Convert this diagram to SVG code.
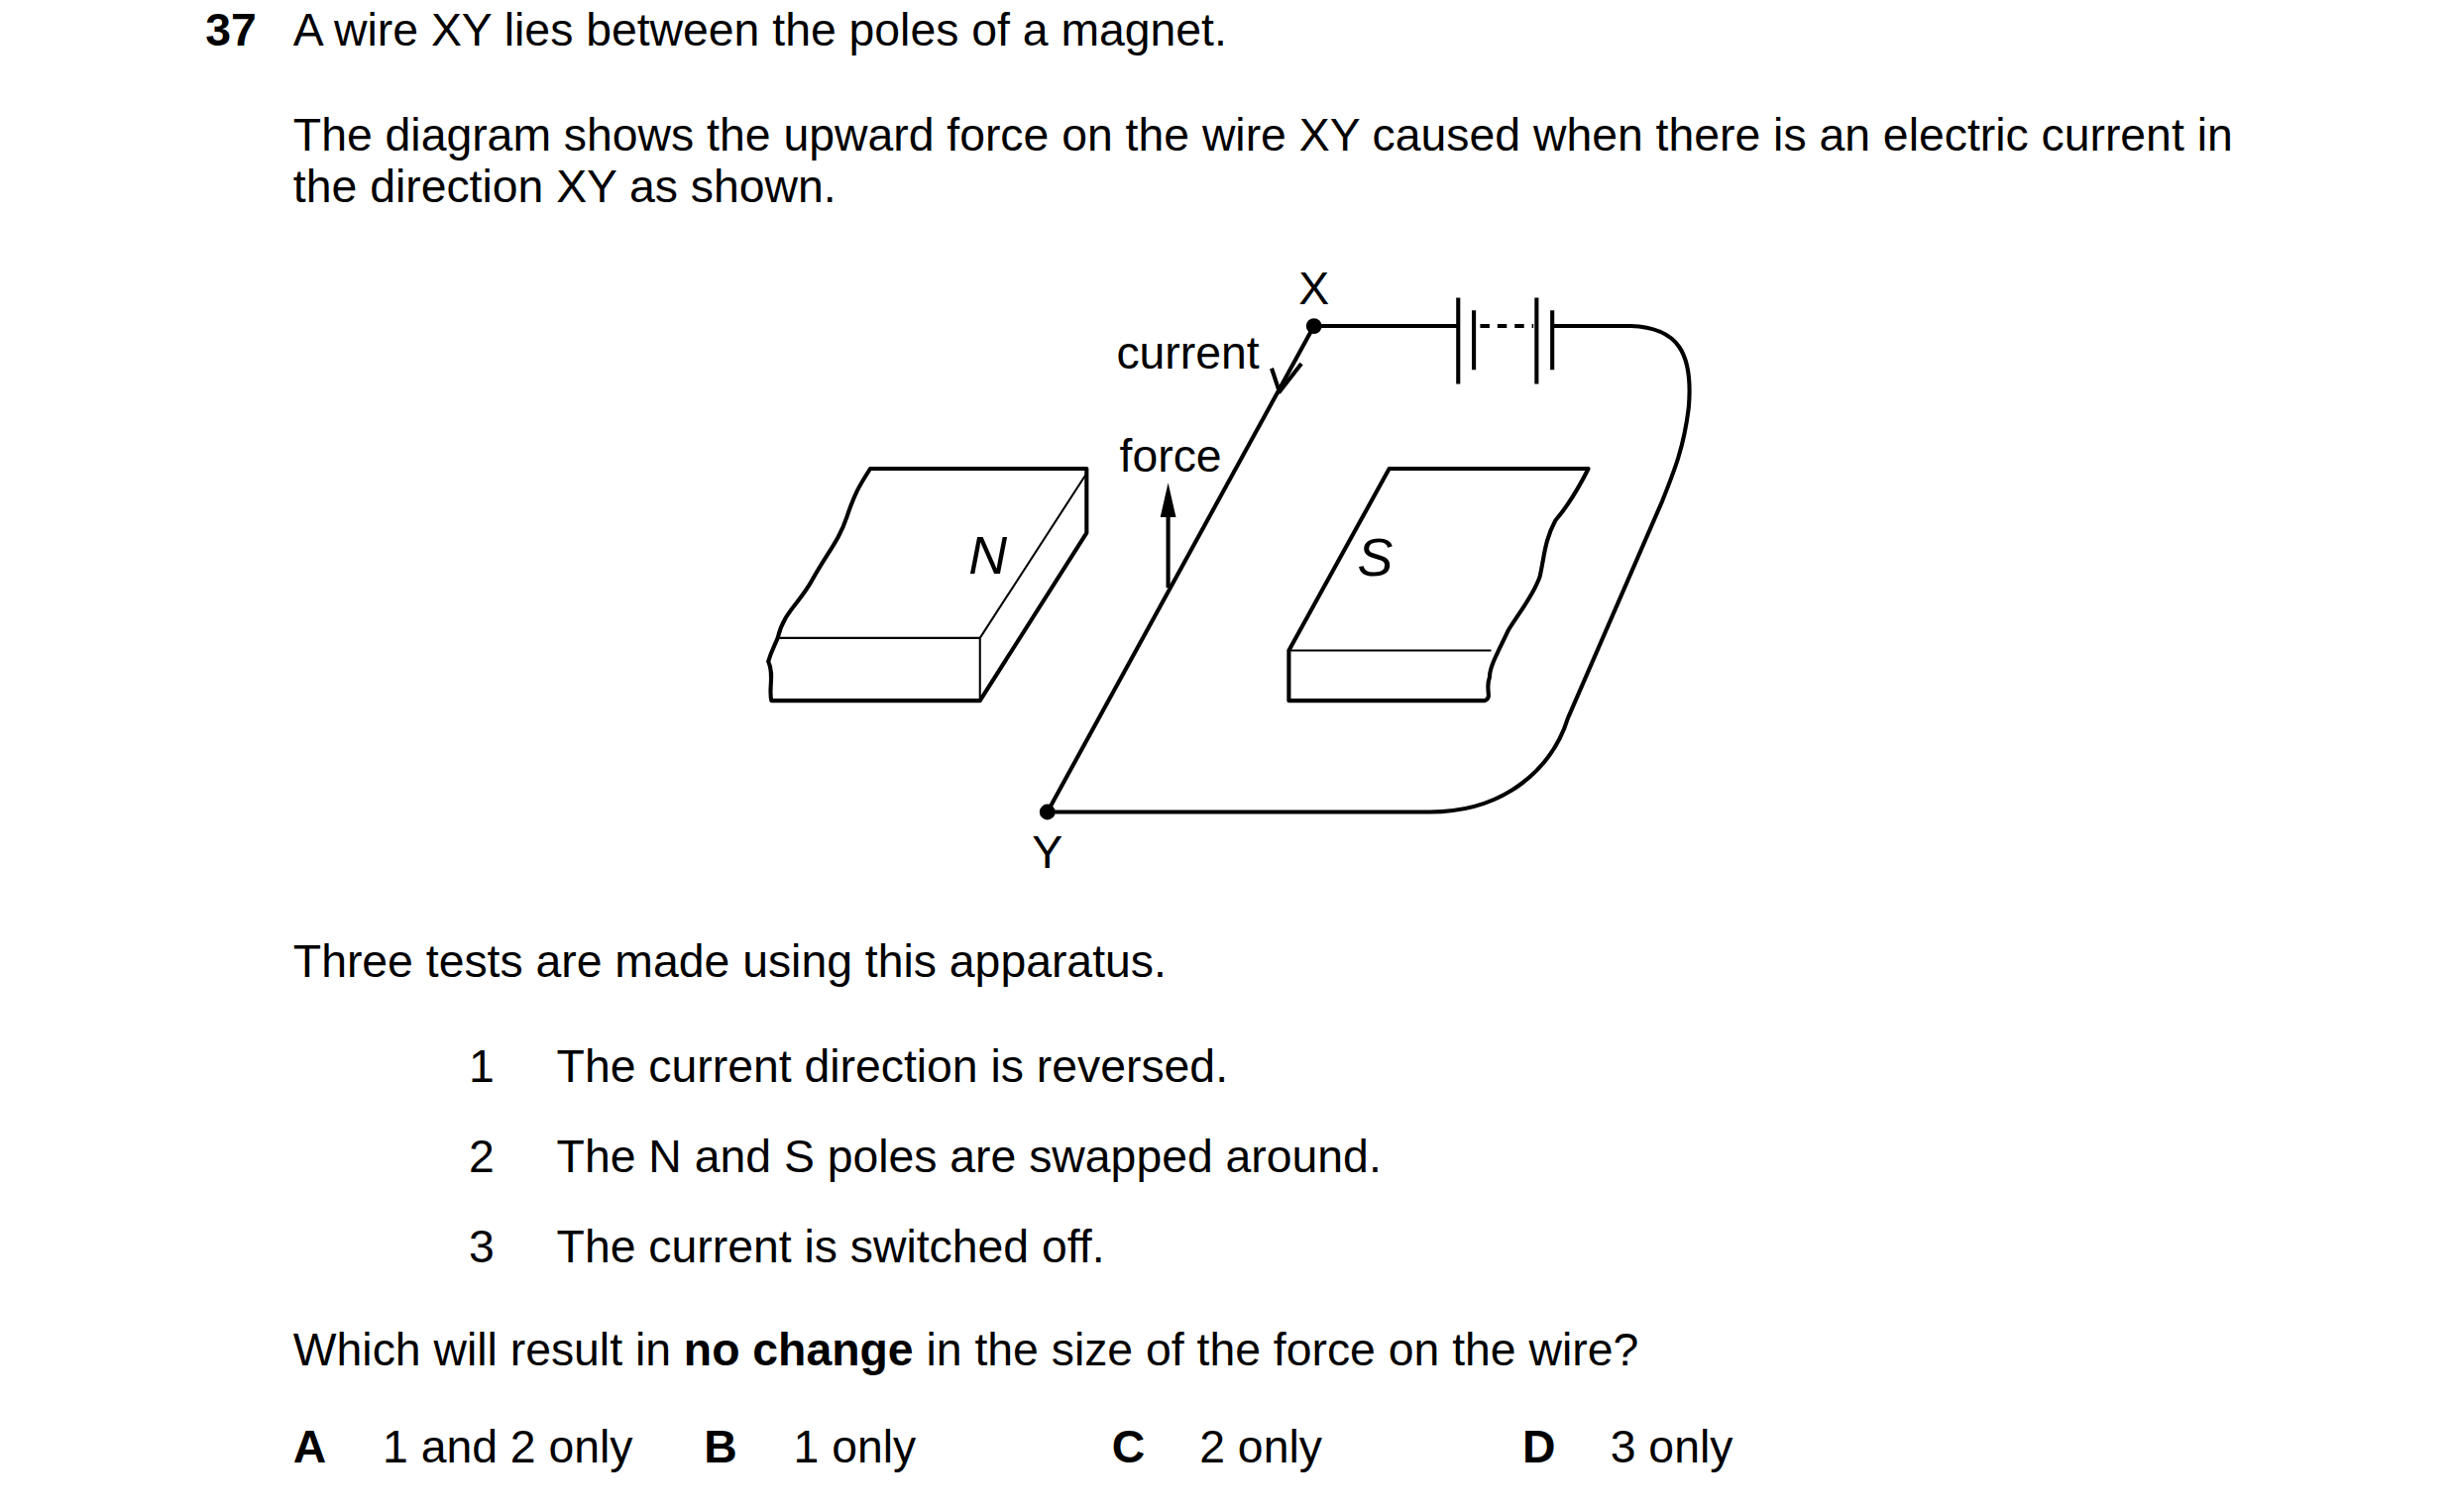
<svg xmlns="http://www.w3.org/2000/svg" width="2480" height="1526" viewBox="0 0 2480 1526">
<style>
text{font-family:"Liberation Sans",Arial,sans-serif;font-size:29.3px;fill:#000}
.b{font-weight:bold}
.ln{fill:none;stroke:#000;stroke-width:2.6;stroke-linejoin:round}
.th{fill:none;stroke:#000;stroke-width:1.3}
.it{font-style:italic;font-size:34px}
</style>
<rect width="2480" height="1526" fill="#fff"/>
<g transform="scale(1.582)">
<g id="question">
<text x="131" y="29" class="b">37</text>
<text x="187" y="29">A wire XY lies between the poles of a magnet.</text>
<text x="187" y="96">The diagram shows the upward force on the wire XY caused when there is an electric current in</text>
<text x="187" y="129">the direction XY as shown.</text>
</g>
<g id="magnetN">
<path class="ln" d="M555,299 L693,299 L693,340 L625,447 L492,447 C490,440 494,430 490,422 C492,415 494,412 496,407 C500,390 510,385 518,370 C528,352 535,345 540,330 C545,315 548,310 555,299 Z"/>
<path class="th" d="M496,407 L625,407 L625,447 M625,407 L693,302"/>
<text x="630" y="366" class="it" text-anchor="middle">N</text>
</g>
<g id="magnetS">
<path class="ln" d="M886,299 L1013,299 C1005,315 998,325 992,332 C985,345 985,355 982,368 C978,380 968,392 962,402 C956,415 950,425 950,432 C947,440 952,445 947,447 L822,447 L822,415 Z"/>
<path class="th" d="M822,415 L951,415"/>
<text x="877" y="367" class="it" text-anchor="middle">S</text>
</g>
<g id="connectors">
<path class="ln" d="M838,208 L930,208 M990,208 L1040,208 C1070,209 1080,225 1077,260 C1074,285 1068,300 1060,320 L1000,458 C990,490 960,518 912,518 L668,518 L838,208"/>
<path class="ln" d="M930,190 V245 M980,190 V245 M940,198 V236 M990,198 V236"/>
<path class="ln" d="M944,208 H978" stroke-dasharray="6,5"/>
<path class="ln" d="M811,235 L816,250 L830,232"/>
<path class="ln" d="M745,375 V325"/>
<path d="M745,308 L740,330 L750,330 Z"/>
<circle cx="838" cy="208" r="5"/>
<circle cx="668" cy="518" r="5"/>
</g>
<g id="labels">
<text x="838" y="194" text-anchor="middle">X</text>
<text x="668" y="554" text-anchor="middle">Y</text>
<text x="712" y="235">current</text>
<text x="714" y="301">force</text>
</g>
<g id="tests">
<text x="187" y="623">Three tests are made using this apparatus.</text>
<text x="299" y="690">1</text><text x="355" y="690">The current direction is reversed.</text>
<text x="299" y="748">2</text><text x="355" y="748">The N and S poles are swapped around.</text>
<text x="299" y="805">3</text><text x="355" y="805">The current is switched off.</text>
<text x="187" y="871">Which will result in <tspan class="b">no change</tspan> in the size of the force on the wire?</text>
<text x="187" y="933" class="b">A</text><text x="244" y="933">1 and 2 only</text>
<text x="449" y="933" class="b">B</text><text x="506" y="933">1 only</text>
<text x="709" y="933" class="b">C</text><text x="765" y="933">2 only</text>
<text x="971" y="933" class="b">D</text><text x="1027" y="933">3 only</text>
</g>
</g>
</svg>
